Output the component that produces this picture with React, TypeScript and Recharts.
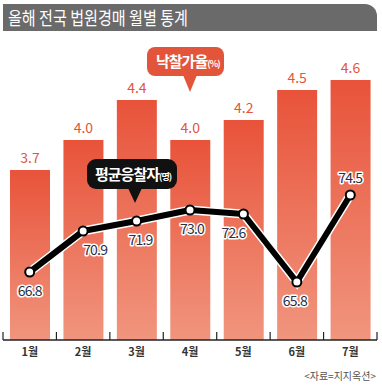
import React from "react";
import { ComposedChart, Bar, Line, XAxis, YAxis, CartesianGrid, LabelList } from "recharts";

const months = ["1월", "2월", "3월", "4월", "5월", "6월", "7월"];
const winRate = [3.7, 4.0, 4.4, 4.0, 4.2, 4.5, 4.6];
const bidders = [66.8, 70.9, 71.9, 73.0, 72.6, 65.8, 74.5];
const leftTicks = [2, 3, 4, 5.05];

const data = months.map((m, i) => ({ month: m, rate: winRate[i], bidders: bidders[i] }));

const FONT = "'Noto Sans CJK KR', 'Noto Sans', sans-serif";
const TICK_MARGIN = 8;
// small nudges so the line labels don't sit on the line
const labelDx = [0, 12, 4, 2, -10, -2, 0];

const BidderLabel = (props: any) => {
  const { x, y, value, index } = props;
  const above = index === bidders.length - 1;
  return (
    <text
      x={x + labelDx[index]}
      y={above ? y - 12 : y + 24}
      textAnchor="middle"
      fontFamily={FONT}
      fontSize={14}
      letterSpacing={-0.8}
      fill="#2b2f45"
      stroke="#fff"
      strokeWidth={3}
      paintOrder="stroke"
      strokeLinejoin="round"
    >
      {Number(value).toFixed(1)}
    </text>
  );
};

// month label plus the short upward separators at the band edges
const MonthTick = (props: any) => {
  const { x, y, payload, index, width } = props;
  const half = payload.offset || Number(width) / months.length / 2;
  const axisY = y - TICK_MARGIN;
  const last = index === months.length - 1;
  return (
    <g>
      <line x1={x - half} x2={x - half} y1={axisY} y2={axisY - 8} stroke="#222" strokeWidth={1.2} />
      {last && <line x1={x + half} x2={x + half} y1={axisY} y2={axisY - 8} stroke="#222" strokeWidth={1.2} />}
      <text x={x} y={y} dy="0.71em" textAnchor="middle" fontFamily={FONT} fontSize={11} fontWeight={700} fill="#333">
        {payload.value}
      </text>
    </g>
  );
};

function Overlay() {
  return (
    <svg width={382} height={386} style={{ position: "absolute", left: 0, top: 0, pointerEvents: "none" }}>
      <path d="M3 4 H365 A12 12 0 0 1 377 16 V31 H3 Z" fill="#6a6a6a" />
      <text x={8} y={25} fontFamily={FONT} fontSize={18} textLength={180} lengthAdjust="spacingAndGlyphs" fill="#fff">
        올해 전국 법원경매 월별 통계
      </text>

      <rect x={147} y={47} width={77} height={29} rx={8} fill="#e2553a" />
      <polygon points="183,75 190,92 197,75" fill="#e2553a" />
      <text x={156} y={67} fontFamily={FONT} fontSize={15} fontWeight={700} letterSpacing={-1} fill="#fff">
        낙찰가율<tspan fontSize={9}>(%)</tspan>
      </text>

      <rect x={87} y={159} width={90} height={30} rx={9} fill="#111" />
      <polygon points="128,188 135,203 142,188" fill="#111" />
      <text x={95} y={180} fontFamily={FONT} fontSize={15} fontWeight={700} letterSpacing={-1} fill="#fff">
        평균응찰자<tspan fontSize={9}>(명)</tspan>
      </text>

      <text x={376} y={380} textAnchor="end" fontFamily={FONT} fontSize={10} fill="#555">
        {"<자료=지지옥션>"}
      </text>
    </svg>
  );
}

export default function App() {
  return (
    <div style={{ position: "absolute", left: 0, top: 0, width: 382, height: 386, background: "#fff" }}>
      <ComposedChart width={382} height={386} data={data} margin={{ top: 35, right: 5, left: 3, bottom: 16 }}>
        <defs>
          <linearGradient id="barFill" x1="0" y1="0" x2="0" y2="1">
            <stop offset="0%" stopColor="#e8533a" />
            <stop offset="100%" stopColor="#f1957e" />
          </linearGradient>
        </defs>
        <CartesianGrid
          vertical={false}
          horizontal={false}
          horizontalFill={["#f2f2f2", "#ffffff", "#f2f2f2"]}
          horizontalValues={leftTicks}
          yAxisId="rate"
        />
        <XAxis
          dataKey="month"
          height={30}
          tickLine={false}
          tickSize={0}
          tickMargin={TICK_MARGIN}
          axisLine={{ stroke: "#222", strokeWidth: 1.5 }}
          tick={<MonthTick />}
        />
        <YAxis yAxisId="rate" hide domain={[2, 5.05]} ticks={leftTicks} />
        <YAxis yAxisId="bid" hide orientation="right" domain={[60, 90.5]} />
        <Bar yAxisId="rate" dataKey="rate" barSize={40} fill="url(#barFill)" isAnimationActive={false}>
          <LabelList dataKey="rate" position="top" offset={7} fill="#e4563c" fontSize={14} fontFamily={FONT}
            formatter={(v: any) => Number(v).toFixed(1)} />
        </Bar>
        <Line yAxisId="bid" dataKey="bidders" stroke="#fff" strokeWidth={9} dot={false} activeDot={false}
          isAnimationActive={false} legendType="none" />
        <Line
          yAxisId="bid"
          dataKey="bidders"
          stroke="#000"
          strokeWidth={6}
          strokeLinejoin="round"
          dot={{ r: 4.5, fill: "#fff", stroke: "#000", strokeWidth: 2 }}
          activeDot={false}
          isAnimationActive={false}
        >
          <LabelList dataKey="bidders" content={<BidderLabel />} />
        </Line>
      </ComposedChart>
      <Overlay />
    </div>
  );
}
